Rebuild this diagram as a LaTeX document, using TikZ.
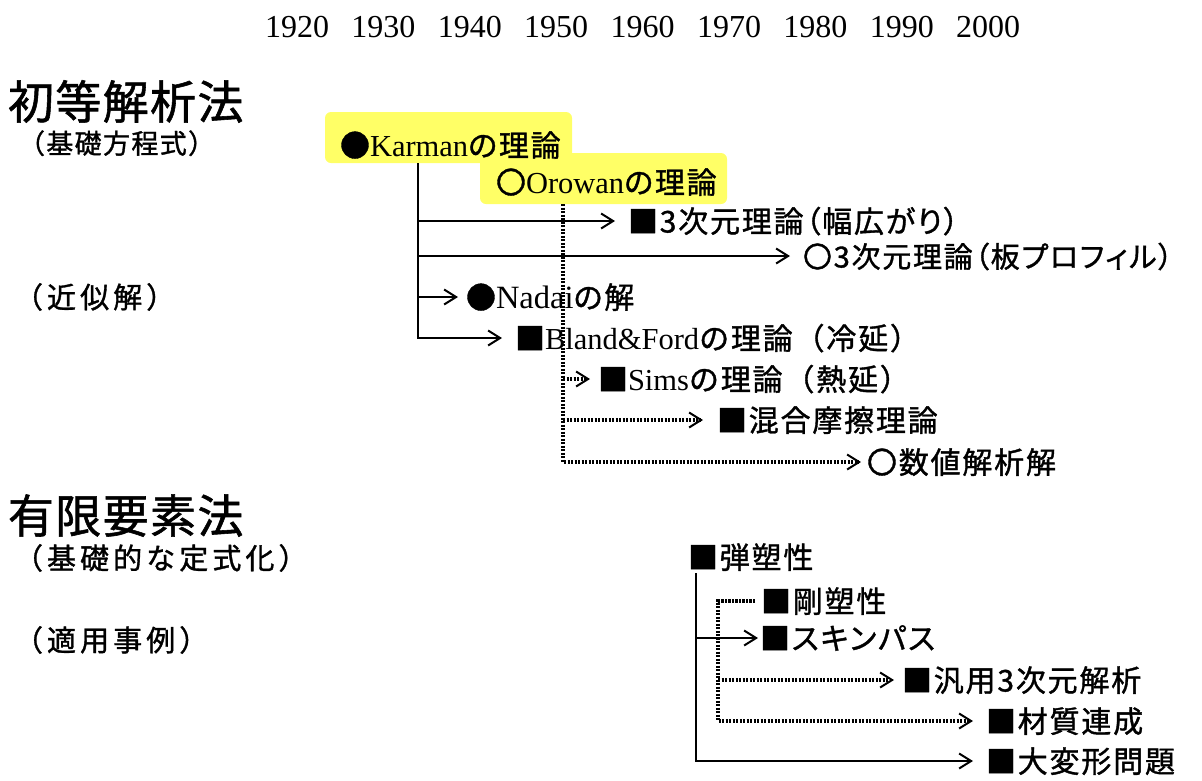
\documentclass[tikz,border=0pt]{standalone}
\usepackage{fontspec}
\setmainfont{Liberation Serif}
\newfontfamily\jpm[RawFeature=+palt,LetterSpace=6,FakeBold=1.2]{Noto Sans CJK JP}
\newfontfamily\jpw[LetterSpace=6,FakeBold=1.2]{Noto Sans CJK JP}
\newfontfamily\jph[RawFeature=+palt,LetterSpace=3,FakeBold=1.2]{Noto Sans CJK JP}
\newfontfamily\jps[LetterSpace=5,FakeBold=1.2]{Noto Sans CJK JP}
\newfontfamily\jpsw[LetterSpace=14,FakeBold=1.2]{Noto Sans CJK JP}
\usetikzlibrary{arrows.meta}
\definecolor{hl}{RGB}{255,255,102}
\newcommand\lat[1]{{\fontsize{30.5}{32}\selectfont\rmfamily #1}}
\newcommand\latb[1]{{\fontsize{32.5}{34}\selectfont\rmfamily #1}}
\tikzset{
  lbl/.style={anchor=west, inner sep=0pt, outer sep=0pt},
  head/.style={lbl, font=\fontsize{46}{48}\selectfont\jph, text height=40pt, text depth=4pt},
  sub/.style={lbl, font=\fontsize{27}{30}\selectfont\jps, text height=24pt, text depth=3pt},
  subw/.style={lbl, font=\fontsize{29}{30}\selectfont\jpsw, text height=25pt, text depth=3pt},
  mid/.style={lbl, font=\fontsize{30}{32}\selectfont\jpm, text height=26pt, text depth=3pt},
  midw/.style={mid, font=\fontsize{30}{32}\selectfont\jpw},
  year/.style={inner sep=0pt, font=\fontsize{32}{34}\selectfont\rmfamily},
  hlbox/.style={fill=hl, rounded corners=6pt, minimum width=247pt, minimum height=51pt, inner sep=0pt},
  arr/.style={line width=2pt, -{Straight Barb[length=12pt,width=15pt,line width=2pt]}},
  dotln/.style={line width=3.2pt, dash pattern=on 2.2pt off 1.3pt},
  dotarr/.style={dotln, -{Straight Barb[length=12pt,width=15pt,line width=2pt]}},
}
\begin{document}
\begin{tikzpicture}[x=1pt,y=-1pt]
\useasboundingbox (0,0) rectangle (1202,780);
% years
\foreach \yr [count=\i from 0] in {1920,1930,1940,1950,1960,1970,1980,1990,2000}
  \node[year] (y\yr) at ({297+86.4*\i},27) {\yr};
% headings
\node[head] (h1) at (8,101) {初等解析法};
\node[sub] (s1) at (18,143) {（基礎方程式）};
\node[subw] (s2) at (14,297) {（近似解）};
\node[head] (h2) at (8,515) {有限要素法};
\node[subw] (s3) at (14,558) {（基礎的な定式化）};
\node[subw] (s4) at (14,640) {（適用事例）};
% highlighted boxes
\node[hlbox] (karmanbox) at (448.5,137.5) {};
\node[hlbox] (orowanbox) at (603.5,178.5) {};
\node[mid] (karman) at (340,145) {●\lat{Karman}の理論};
\node[mid] (orowan) at (496,182) {〇\lat{Orowan}の理論};
% analytic labels
\node[mid] (n3a) at (628,221) {■3次元理論（幅広がり）};
\node[mid, font=\fontsize{29}{32}\selectfont\jpm] (n3b) at (803,256) {〇3次元理論（板プロフィル）};
\node[mid] (nadai) at (466,297) {●\latb{Nadai}の解};
\node[midw] (bland) at (515,338) {■\lat{Bland\&Ford}の理論（冷延）};
\node[midw] (sims) at (598,379) {■\lat{Sims}の理論（熱延）};
\node[mid] (kongo) at (717,420) {■混合摩擦理論};
\node[mid] (suchi) at (867,462) {〇数値解析解};
% FEM labels
\node[mid] (dan) at (688,557) {■弾塑性};
\node[mid] (gou) at (761,601) {■剛塑性};
\node[mid] (skin) at (760,638) {■スキンパス};
\node[mid] (hanyo) at (902,680) {■汎用3次元解析};
\node[mid] (zai) at (986,721) {■材質連成};
\node[mid] (daihen) at (986,761) {■大変形問題};
% trunk coordinates
\coordinate (kt) at (418,163);
\coordinate (ot) at (563,204);
\coordinate (dt) at (696,573);
\coordinate (dx) at (718,600);
% Karman connectors
\draw[arr] (kt) |- ([xshift=-13pt]bland.west);
\draw[arr] (kt |- n3a.west) -- ([xshift=-13pt]n3a.west);
\draw[arr] (kt |- n3b.west) -- ([xshift=-13pt]n3b.west);
\draw[arr] (kt |- nadai.west) -- ([xshift=-8pt]nadai.west);
% Orowan connectors
\draw[dotarr] (ot) |- ([xshift=-6pt]suchi.west);
\draw[dotarr] (ot |- sims.west) -- ([xshift=-8pt]sims.west);
\draw[dotarr] (ot |- kongo.west) -- ([xshift=-14pt]kongo.west);
% FEM connectors
\draw[arr] (dt) |- ([xshift=-13pt]daihen.west);
\draw[arr] (dt |- skin.west) -- ([xshift=-2pt]skin.west);
\draw[dotarr] ([xshift=-6pt]gou.west) -| (dx |- zai.west) -- ([xshift=-13pt]zai.west);
\draw[dotarr] (dx |- hanyo.west) -- ([xshift=-8pt]hanyo.west);
\end{tikzpicture}
\end{document}
